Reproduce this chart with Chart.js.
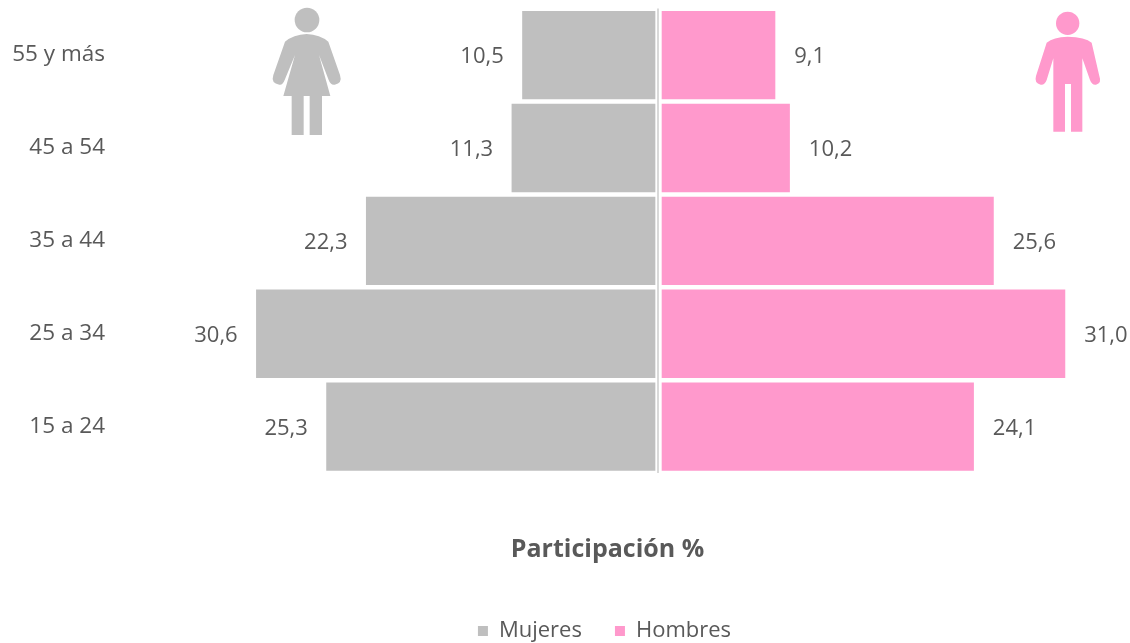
<!DOCTYPE html>
<html><head><meta charset="utf-8">
<style>html,body{margin:0;padding:0;background:#fff}#w{width:1130px;height:643px;position:relative}</style>
<script src="https://cdn.jsdelivr.net/npm/chart.js@4"></script></head>
<body><div id="w"><canvas id="c"></canvas></div>
<script>
const categories = ['55 y más','45 a 54','35 a 44','25 a 34','15 a 24'];
const mujeres = [10.5,11.3,22.3,30.6,25.3];
const hombres = [9.1,10.2,25.6,31.0,24.1];
const GRAY='#bfbfbf', PINK='#ff99cc', TEXT='#595959';
const FONT='"Open Sans", "Noto Sans", sans-serif';

function person(ctx,ox,oy,color,pts,head){
  ctx.save();ctx.translate(ox,oy);ctx.scale(1/3,1/3);ctx.fillStyle=color;
  ctx.beginPath();ctx.arc(head[0],head[1],head[2],0,Math.PI*2);ctx.fill();
  ctx.beginPath();ctx.moveTo(pts[0][0],pts[0][1]);
  pts.slice(1).forEach(p=>{
    if(p.length===4)ctx.quadraticCurveTo(p[0],p[1],p[2],p[3]);else ctx.lineTo(p[0],p[1]);
  });
  ctx.closePath();ctx.fill();ctx.restore();
}
const woman=[[200,102],[160,104,135,125],[100,225],[92,250,118,254],[128,256,134,240],[165,165],[130,288],[155,288],[155,405],[191,405],[191,288],[209,288],[209,405],[246,405],[246,288],[271,288],[237,165],[266,240],[272,256,284,254],[308,250,300,225],[265,125],[240,104,200,102]];
const man=[[173,110],[130,111,110,128],[78,228],[72,250,92,254],[104,256,110,240],[130,175],[130,395],[165,395],[165,252],[183,252],[183,395],[217,395],[217,175],[240,240],[246,256,258,254],[276,250,268,228],[245,128],[226,111,173,110]];

const extras={id:'extras',
  afterLayout(chart){chart.legend.left-=3;chart.legend.right-=3;},
  afterDatasetsDraw(chart){
    const ctx=chart.ctx;
    ctx.save();ctx.font='22px '+FONT;ctx.fillStyle=TEXT;ctx.textBaseline='middle';
    chart.getDatasetMeta(0).data.forEach((b,i)=>{ctx.textAlign='right';ctx.fillText(mujeres[i].toFixed(1).replace('.',','),b.x-15,b.y+2);});
    chart.getDatasetMeta(1).data.forEach((b,i)=>{ctx.textAlign='left';ctx.fillText(hombres[i].toFixed(1).replace('.',','),b.x+16,b.y+2);});
    ctx.restore();
    person(ctx,240,0,GRAY,woman,[201,60,37]);
    person(ctx,1010,0,PINK,man,[173,70,35]);
  }};

new Chart(document.getElementById('c'),{
  type:'bar',
  data:{labels:categories,datasets:[
    {label:'Mujeres',data:mujeres.map(v=>-v),backgroundColor:GRAY,borderColor:'#fff',borderSkipped:false,borderWidth:{left:3.75,right:1.75,top:2.75,bottom:2.5},grouped:false,categoryPercentage:1,barPercentage:1},
    {label:'Hombres',data:hombres,backgroundColor:PINK,borderColor:'#fff',borderSkipped:false,borderWidth:{left:3.25,right:3.25,top:2.75,bottom:2.5},grouped:false,categoryPercentage:1,barPercentage:1}
  ]},
  plugins:[extras],
  options:{
    indexAxis:'y',responsive:true,maintainAspectRatio:false,animation:false,
    layout:{padding:{left:0,right:-85,top:8.5,bottom:-9}},
    scales:{
      y:{position:'left',grid:{display:false,drawTicks:false},border:{display:false},
        ticks:{color:TEXT,font:{family:FONT,size:22.5},padding:15},
        afterFit(s){s.width=120;s.paddingTop=0;s.paddingBottom=0;}},
      x:{position:'bottom',min:-40.62,max:35.67,
        afterBuildTicks(s){s.ticks=[{value:0}];},
        grid:{color:'#d9d9d9',lineWidth:2,drawTicks:false,z:1},border:{display:false},
        ticks:{display:false},afterFit(s){s.height=0;s.paddingLeft=0;s.paddingRight=0;}}
    },
    plugins:{
      tooltip:{enabled:false},
      title:{display:true,weight:500,text:'Participación %',position:'bottom',color:TEXT,font:{family:FONT,size:25,weight:'bold'},padding:{top:62,bottom:22}},
      legend:{position:'bottom',weight:1000,labels:{color:TEXT,font:{family:FONT,size:22},boxWidth:10,boxHeight:10,padding:33,
        generateLabels(chart){return Chart.defaults.plugins.legend.labels.generateLabels(chart).map(l=>Object.assign(l,{lineWidth:0,strokeStyle:'transparent'}));}}}
    }
  }
});
</script></body></html>
